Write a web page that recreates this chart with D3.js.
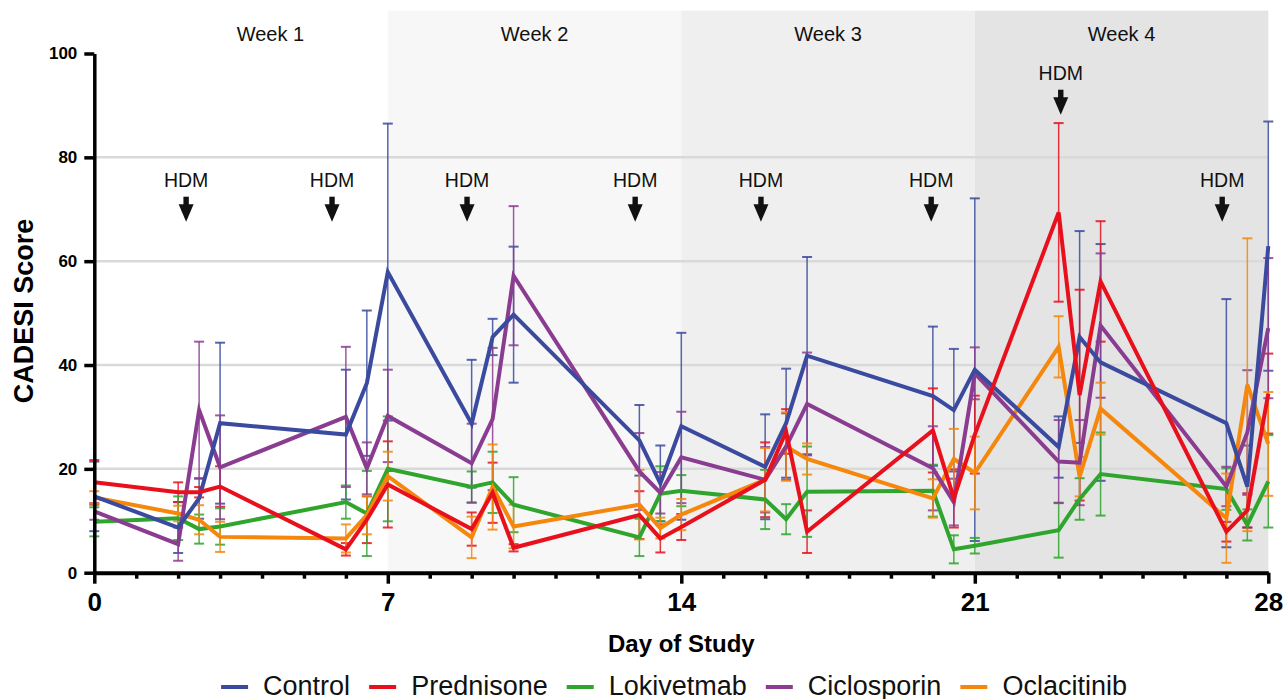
<!DOCTYPE html>
<html>
<head>
<meta charset="utf-8">
<script src="https://cdn.jsdelivr.net/npm/d3@7"></script>
<style>
  body { margin: 0; background: #fff; }
  svg { display: block; font-family: "Liberation Sans", Arial, sans-serif; }
</style>
</head>
<body>
<div class="js-chart"></div>
<script>
// sampling days (study day)
const days = [0, 2, 2.5, 3, 6, 6.5, 7, 9, 9.5, 10, 13, 13.5, 14, 16, 16.5, 17, 20, 20.5, 21, 23, 23.5, 24, 27, 27.5, 28];

const groups = ["Control", "Prednisone", "Lokivetmab", "Ciclosporin", "Oclacitinib"];
const groupColors = ["#3a4a9e", "#e8101c", "#2fa52d", "#8a3d90", "#f5870c"];

// mean CADESI score per day
const controlMean = [14.7, 8.7, 14.3, 28.8, 26.6, 36.5, 57.9, 28.7, 45.4, 49.7, 25.5, 17.2, 28.2, 20.4, 28.8, 41.8, 34.0, 31.3, 39.1, 24.2, 45.4, 40.5, 28.8, 16.6, 62.9];
const prednisoneMean = [17.4, 15.5, 15.5, 16.6, 4.5, 10.2, 17.0, 8.4, 15.4, 4.8, 11.1, 6.6, 8.8, 17.9, 27.2, 7.9, 27.4, 14.3, 26.6, 69.4, 34.2, 56.1, 7.9, 12.0, 34.5];
const lokivetmabMean = [9.8, 10.5, 8.4, 8.9, 13.6, 11.4, 20.0, 16.5, 17.4, 13.1, 6.8, 15.2, 15.8, 14.1, 10.3, 15.6, 15.8, 4.5, 5.2, 8.2, 14.2, 19.0, 16.1, 9.2, 17.6];
const ciclosporinMean = [11.8, 5.5, 31.3, 20.3, 30.0, 20.1, 30.2, 21.1, 29.6, 57.2, 19.5, 15.4, 22.2, 17.9, 24.3, 32.5, 20.1, 13.6, 38.4, 21.4, 21.2, 47.6, 16.6, 27.0, 47.1];
const oclacitinibMean = [14.5, 11.4, 10.2, 6.9, 6.6, 11.1, 18.6, 6.8, 16.5, 8.9, 13.1, 8.6, 11.2, 17.9, 24.3, 21.9, 14.3, 21.9, 19.2, 43.5, 18.5, 31.6, 10.5, 36.2, 24.8];

// standard deviation per day
const controlSd = [6.7, 4.9, 3.9, 15.5, 12.5, 14.0, 28.6, 12.3, 3.5, 13.1, 6.8, 7.3, 18.0, 10.1, 10.5, 19.0, 13.4, 11.8, 33.0, 5.9, 20.4, 22.8, 23.9, 7.9, 24.0];
const prednisoneSd = [4.3, 1.9, 1.0, 3.9, 1.2, 4.5, 8.3, 3.2, 5.8, 0.7, 4.6, 2.7, 2.5, 7.2, 4.3, 4.1, 8.1, 5.6, 7.5, 17.2, 20.3, 11.6, 1.9, 3.3, 7.7];
const lokivetmabSd = [2.8, 4.2, 2.8, 3.5, 3.2, 8.2, 10.1, 3.0, 5.9, 5.3, 3.6, 5.3, 3.0, 5.7, 2.9, 8.7, 5.0, 2.7, 1.5, 5.3, 4.0, 8.0, 4.0, 3.0, 8.9];
const ciclosporinSd = [1.6, 3.2, 13.2, 10.0, 13.5, 5.0, 8.9, 7.6, 13.7, 13.4, 7.4, 4.0, 8.8, 6.3, 6.4, 9.9, 8.1, 4.5, 5.0, 8.0, 8.2, 13.9, 3.8, 12.0, 13.5];
const oclacitinibSd = [1.2, 1.5, 2.8, 2.9, 2.7, 3.7, 4.7, 4.0, 8.2, 4.2, 6.7, 2.0, 3.0, 6.1, 6.6, 3.0, 3.7, 5.8, 7.0, 5.9, 3.8, 5.0, 8.6, 28.2, 10.0];

const groupMeans = [controlMean, prednisoneMean, lokivetmabMean, ciclosporinMean, oclacitinibMean];
const groupSds = [controlSd, prednisoneSd, lokivetmabSd, ciclosporinSd, oclacitinibSd];

// weeks and HDM challenge annotations
const weekLabels = ["Week 1", "Week 2", "Week 3", "Week 4"];
const weekStarts = [0, 7, 14, 21];
const weekLabelDays = [4.2, 10.5, 17.5, 24.5];
const weekShades = ["#ffffff", "#f7f7f7", "#efefef", "#e4e4e4"];
const hdmDays = [2.19, 5.67, 8.89, 12.9, 15.9, 19.96, 23.05, 26.9];
const hdmRaised = [false, false, false, false, false, false, true, false];

const yTicks = [0, 20, 40, 60, 80, 100];
const gridValues = [20, 40, 60, 80];
const xMajor = [0, 7, 14, 21, 28];

const width = 1285;
const height = 699;
const margin = { top: 53.5, right: 16.7, bottom: 126.3, left: 94.3 };
const w = width - margin.left - margin.right;
const h = height - margin.top - margin.bottom;

const x = d3.scaleLinear().domain([0, 28]).range([0, w]);
const y = d3.scaleLinear().domain([0, 100]).range([h, 0]);

const svg = d3
  .select(".js-chart")
  .append("svg")
  .attr("width", width)
  .attr("height", height);

const g = svg.append("g").attr("transform", `translate(${margin.left}, ${margin.top})`);

// week background bands
g.selectAll(".band")
  .data(weekStarts)
  .enter()
  .append("rect")
  .attr("class", "band")
  .attr("x", (d) => x(d))
  .attr("y", 10.7 - margin.top)
  .attr("width", (d) => x(d + 7) - x(d))
  .attr("height", h - (10.7 - margin.top))
  .attr("fill", (d, i) => weekShades[i]);

// horizontal gridlines
g.selectAll(".grid")
  .data(gridValues)
  .enter()
  .append("line")
  .attr("x1", 0)
  .attr("x2", w)
  .attr("y1", (d) => y(d))
  .attr("y2", (d) => y(d))
  .attr("stroke", "#d9d9d9")
  .attr("stroke-width", 2.5);

// week labels
g.selectAll(".week")
  .data(weekLabels)
  .enter()
  .append("text")
  .attr("x", (d, i) => x(weekLabelDays[i]))
  .attr("y", 41 - margin.top)
  .attr("text-anchor", "middle")
  .attr("font-size", 20)
  .attr("fill", "#111")
  .text((d) => d);

// HDM arrows
const hdm = g
  .selectAll(".hdm")
  .data(hdmDays)
  .enter()
  .append("g")
  .attr("class", "hdm")
  .attr("transform", (d, i) => `translate(${x(d)}, ${(hdmRaised[i] ? 80 : 187) - margin.top})`);

hdm
  .append("text")
  .attr("text-anchor", "middle")
  .attr("font-size", 19.5)
  .attr("fill", "#111")
  .text("HDM");

hdm.append("rect").attr("x", -2.7).attr("y", 9.7).attr("width", 5.4).attr("height", 8.5).attr("fill", "#111");
hdm.append("path").attr("d", "M-7.5,17.2 L7.5,17.2 L0,34.7 Z").attr("fill", "#111");

// error bars
const pts = [];
groups.forEach((name, gi) => {
  days.forEach((d, i) => {
    pts.push({ gi, day: d, mean: groupMeans[gi][i], sd: groupSds[gi][i] });
  });
});

const err = g
  .selectAll(".err")
  .data(pts)
  .enter()
  .append("g")
  .attr("class", "err")
  .attr("stroke", (d) => groupColors[d.gi])
  .attr("stroke-width", 1.5)
  .attr("stroke-opacity", 0.85);

err
  .append("line")
  .attr("x1", (d) => x(d.day))
  .attr("x2", (d) => x(d.day))
  .attr("y1", (d) => y(Math.max(0, d.mean - d.sd)))
  .attr("y2", (d) => y(d.mean + d.sd));

[1, -1].forEach((s) => {
  err
    .append("line")
    .attr("x1", (d) => x(d.day) - 5)
    .attr("x2", (d) => x(d.day) + 5)
    .attr("y1", (d) => y(Math.max(0, d.mean + s * d.sd)))
    .attr("y2", (d) => y(Math.max(0, d.mean + s * d.sd)))
    .attr("stroke-width", 2);
});

// mean lines
const line = d3
  .line()
  .x((d, i) => x(days[i]))
  .y((d) => y(d));

const drawOrder = [2, 4, 3, 0, 1];
drawOrder.forEach((gi) => {
  g.append("path")
    .datum(groupMeans[gi])
    .attr("fill", "none")
    .attr("stroke", groupColors[gi])
    .attr("stroke-width", 4)
    .attr("stroke-linejoin", "miter")
    .attr("d", line);
});

// y axis
const yAxis = g
  .append("g")
  .call(d3.axisLeft(y).tickValues(yTicks).tickSize(10).tickSizeOuter(0).tickPadding(7));

yAxis.select(".domain").attr("stroke", "#000").attr("stroke-width", 3.5);
yAxis.selectAll(".tick line").attr("stroke", "#000").attr("stroke-width", 3.5);
yAxis
  .selectAll(".tick text")
  .attr("font-size", 17)
  .attr("font-weight", "bold")
  .attr("fill", "#000")
  .attr("font-family", "Liberation Sans, Arial, sans-serif");

// x axis
const xAxis = g
  .append("g")
  .attr("transform", `translate(0, ${h})`)
  .call(
    d3
      .axisBottom(x)
      .tickValues(d3.range(0, 29))
      .tickSize(11)
      .tickSizeOuter(0)
      .tickPadding(9)
      .tickFormat((d) => (xMajor.includes(d) ? d : ""))
  );

xAxis.select(".domain").attr("stroke", "#000").attr("stroke-width", 4);
xAxis
  .selectAll(".tick line")
  .attr("stroke", "#000")
  .attr("stroke-width", 3.5)
  .attr("y2", (d) => (xMajor.includes(d) ? 11 : 6));
xAxis
  .selectAll(".tick text")
  .attr("font-size", 26)
  .attr("font-weight", "bold")
  .attr("fill", "#000")
  .attr("font-family", "Liberation Sans, Arial, sans-serif");

// axis titles
svg
  .append("text")
  .attr("x", margin.left + w / 2)
  .attr("y", 652)
  .attr("text-anchor", "middle")
  .attr("font-size", 24)
  .attr("font-weight", "bold")
  .text("Day of Study");

svg
  .append("text")
  .attr("transform", `translate(33, 311) rotate(-90)`)
  .attr("text-anchor", "middle")
  .attr("font-size", 27)
  .attr("font-weight", "bold")
  .text("CADESI Score");

// legend
const legend = svg.append("g").attr("class", "legend");
const items = legend
  .selectAll(".item")
  .data(groups)
  .enter()
  .append("g")
  .attr("class", "item");

items
  .append("line")
  .attr("x1", 0)
  .attr("x2", 27)
  .attr("y1", 687)
  .attr("y2", 687)
  .attr("stroke", (d, i) => groupColors[i])
  .attr("stroke-width", 4);

items
  .append("text")
  .attr("x", 42)
  .attr("y", 694.5)
  .attr("font-size", 27)
  .attr("fill", "#111")
  .text((d) => d);

let cursor = 0;
items.each(function () {
  const tw = d3.select(this).select("text").node().getComputedTextLength();
  d3.select(this).attr("data-x", cursor);
  d3.select(this).attr("transform", `translate(${cursor}, 0)`);
  cursor += 42 + tw + 19;
});
const legendWidth = cursor - 19;
legend.attr("transform", `translate(${674 - legendWidth / 2}, 0)`);
</script>
</body>
</html>
